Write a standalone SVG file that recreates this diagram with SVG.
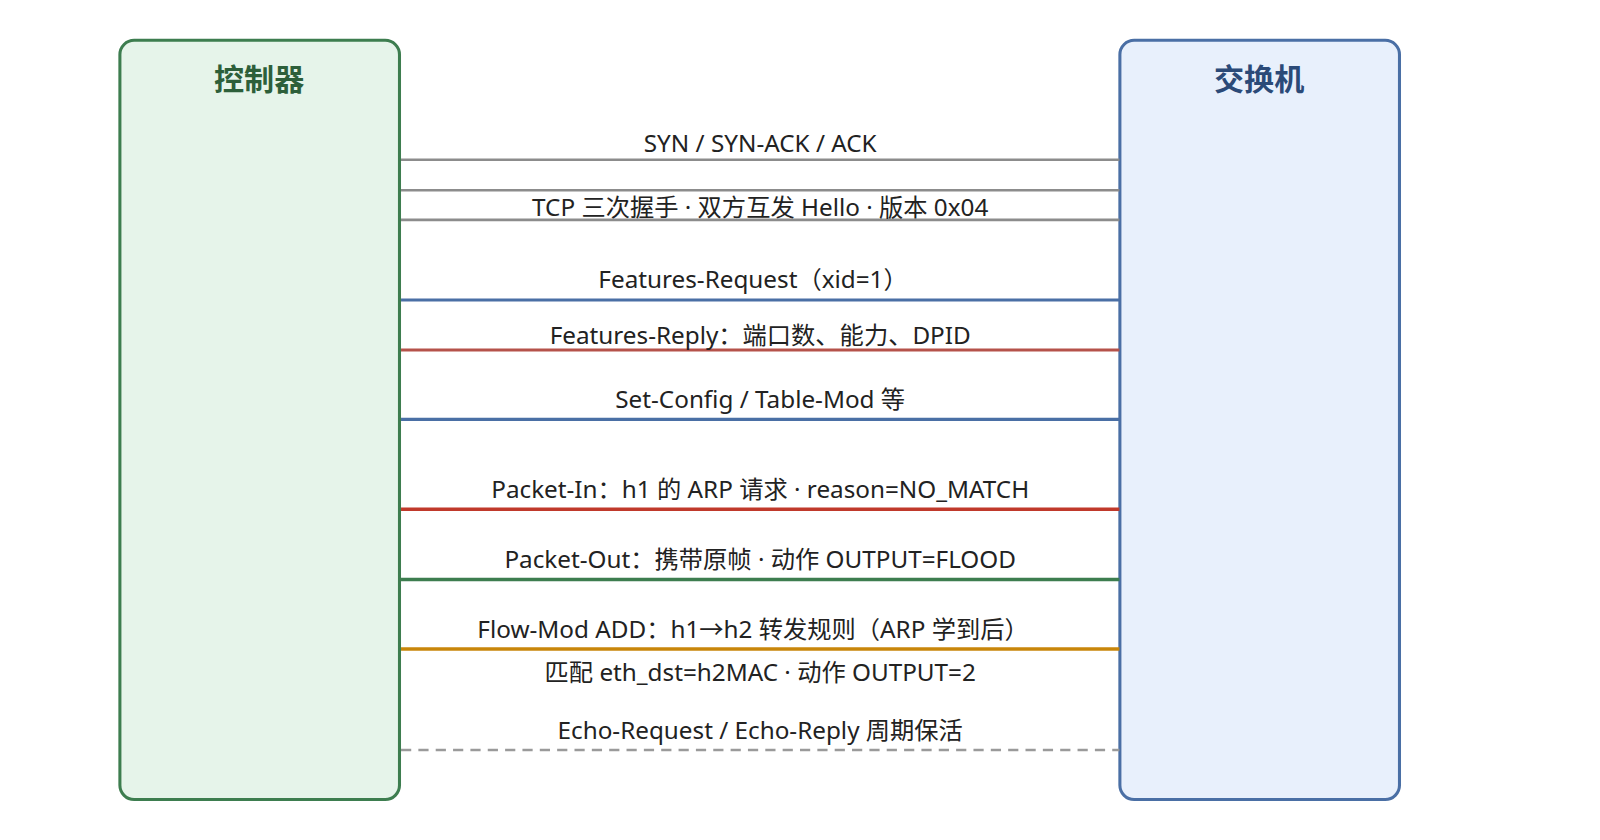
<svg xmlns="http://www.w3.org/2000/svg" width="1600" height="840" viewBox="0 0 1600 840">
<style>
.t{font-family:"Noto Sans","Noto Sans CJK SC",sans-serif;font-size:23.8px;fill:#222;text-anchor:middle}
.h{font-family:"Noto Sans CJK SC",sans-serif;font-size:29.5px;font-weight:bold;text-anchor:middle}
line{fill:none}
</style>
<rect width="1600" height="840" fill="#fff"/>
<g transform="scale(1.0204)">
<g id="controller"><rect x="117.5" y="39.5" width="274" height="744" rx="14" fill="#e6f4ea" stroke="#3d7d4f" stroke-width="3"/><text class="h" x="254" y="88" fill="#2d5f3a">控制器</text></g>
<g id="switch"><rect x="1097.5" y="39.5" width="274" height="744" rx="14" fill="#e8f0fc" stroke="#4a6fa5" stroke-width="3"/><text class="h" x="1234" y="88" fill="#2b4a78">交换机</text></g>
<g id="connectors">
<line x1="393" y1="156.5" x2="1097" y2="156.5" stroke="#8c8c8c" stroke-width="2.5"/>
<line x1="393" y1="186.5" x2="1097" y2="186.5" stroke="#8c8c8c" stroke-width="2.5"/>
<line x1="393" y1="215.5" x2="1097" y2="215.5" stroke="#8c8c8c" stroke-width="2.5"/>
<line x1="393" y1="294" x2="1097" y2="294" stroke="#4a6fa5" stroke-width="3"/>
<line x1="393" y1="343" x2="1097" y2="343" stroke="#b5524a" stroke-width="3"/>
<line x1="393" y1="411" x2="1097" y2="411" stroke="#4a6fa5" stroke-width="3"/>
<line x1="393" y1="499" x2="1097" y2="499" stroke="#c0392b" stroke-width="3.5"/>
<line x1="393" y1="568" x2="1097" y2="568" stroke="#3d7d4f" stroke-width="3.5"/>
<line x1="393" y1="636" x2="1097" y2="636" stroke="#c8860a" stroke-width="3.5"/>
<line x1="393" y1="735" x2="1097" y2="735" stroke="#9a9a9a" stroke-width="2.5" stroke-dasharray="10,7"/>
</g>
<g id="labels">
<text class="t" x="745" y="149">SYN / SYN-ACK / ACK</text>
<text class="t" x="745" y="212">TCP 三次握手 · 双方互发 Hello · 版本 0x04</text>
<text class="t" x="738" y="282">Features-Request（xid=1）</text>
<text class="t" x="745" y="337">Features-Reply：端口数、能力、DPID</text>
<text class="t" x="745" y="400">Set-Config / Table-Mod 等</text>
<text class="t" x="745" y="488">Packet-In：h1 的 ARP 请求 · reason=NO_MATCH</text>
<text class="t" x="745" y="557">Packet-Out：携带原帧 · 动作 OUTPUT=FLOOD</text>
<text class="t" x="738" y="625">Flow-Mod ADD：h1→h2 转发规则（ARP 学到后）</text>
<text class="t" x="745" y="667">匹配 eth_dst=h2MAC · 动作 OUTPUT=2</text>
<text class="t" x="745" y="724">Echo-Request / Echo-Reply 周期保活</text>
</g>
</g>
</svg>
